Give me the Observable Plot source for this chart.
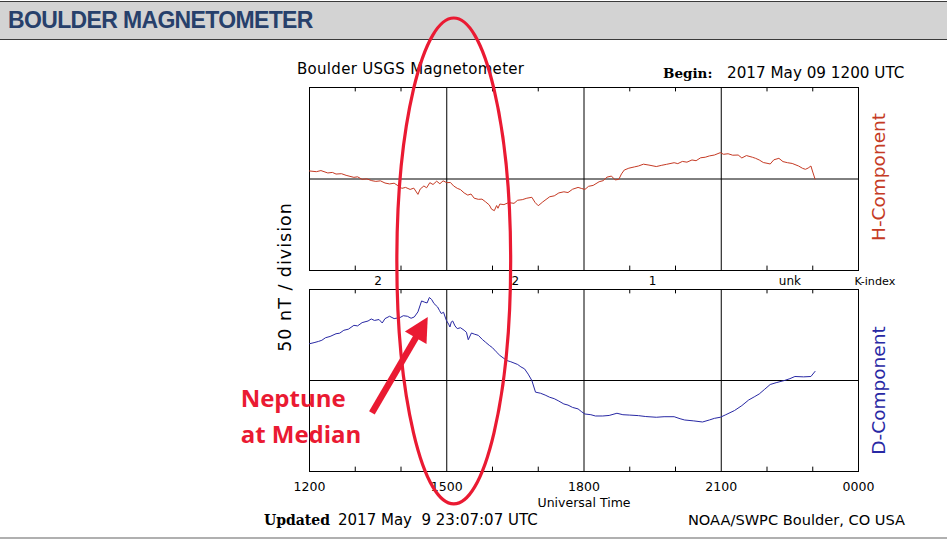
<!DOCTYPE html>
<html><head><meta charset="utf-8">
<script src="https://cdn.jsdelivr.net/npm/d3@7"></script>
<script src="https://cdn.jsdelivr.net/npm/@observablehq/plot@0.6"></script>
<style>
html,body{margin:0;padding:0;background:#fff;}
#page{position:relative;width:947px;height:542px;overflow:hidden;font-family:"DejaVu Sans",sans-serif;}
#header{position:absolute;left:0;top:1px;width:947px;height:37px;background:#d3d3d3;border-top:1px solid #3a3a3a;border-bottom:1px solid #3a3a3a;}
#footerline{position:absolute;left:0;top:537px;width:947px;height:2px;background:#b0b0b0;}
.abs{position:absolute;left:0;}
</style></head>
<body><div id="page"><div id="header"></div><div id="footerline"></div></div>
<script>
// ---- data ----
const xTickHours = [0, 3, 6, 9, 12];
const xTickLabels = ["1200", "1500", "1800", "2100", "0000"];
const gridHours = [3, 6, 9];
const minorHours = [1, 2, 4, 5, 7, 8, 10, 11];
const kHours = [1.5, 4.5, 7.5, 10.5];
const kLabels = ["2", "2", "1", "unk"];

// H-component (hours after 1200 UT, nT relative to baseline)
const hHours = [0.00,0.15,0.25,0.40,0.50,0.58,0.70,0.80,0.97,1.05,1.15,1.25,1.36,1.45,1.55,1.65,1.75,1.85,1.95,2.02,2.10,2.20,2.28,2.37,2.42,2.50,2.56,2.63,2.70,2.78,2.85,2.92,3.00,3.08,3.15,3.23,3.30,3.38,3.46,3.53,3.60,3.69,3.77,3.85,3.93,3.98,4.04,4.09,4.12,4.16,4.25,4.35,4.47,4.55,4.65,4.75,4.86,4.93,5.00,5.10,5.25,5.35,5.45,5.56,5.65,5.75,5.87,5.95,6.02,6.10,6.20,6.33,6.42,6.50,6.60,6.68,6.76,6.82,6.88,6.98,7.10,7.19,7.30,7.42,7.58,7.70,7.80,7.97,8.05,8.15,8.25,8.36,8.45,8.55,8.65,8.74,8.85,8.98,9.05,9.15,9.25,9.37,9.45,9.55,9.68,9.75,9.83,9.92,10.00,10.07,10.15,10.26,10.35,10.45,10.55,10.69,10.78,10.84,10.90,10.96,11.00,11.05];
const hValues = [4.4,4.0,4.6,3.3,3.6,2.7,2.9,2.0,0.9,1.2,-0.2,0.1,-0.9,-1.3,-1.0,-2.2,-2.7,-2.3,-3.9,-5.1,-4.6,-5.7,-5.0,-8.4,-5.5,-3.8,-4.8,-2.0,-3.0,-1.2,-2.6,-1.0,-2.0,-1.9,-3.8,-5.1,-5.8,-7.6,-8.8,-8.2,-10.5,-11.1,-11.0,-12.5,-14.2,-16.5,-17.3,-14.5,-16.0,-13.7,-14.0,-12.9,-13.3,-11.6,-11.3,-10.5,-10.0,-12.8,-14.6,-12.5,-9.7,-9.2,-7.6,-7.0,-7.4,-5.6,-4.6,-5.2,-5.7,-4.0,-3.5,-1.5,-0.9,1.0,1.6,-0.5,-0.2,2.8,4.9,5.9,6.6,7.1,8.1,7.6,6.8,7.5,8.0,8.9,8.4,9.6,9.2,10.4,10.0,11.6,11.9,12.6,13.1,14.4,13.5,13.8,13.0,13.1,11.5,12.8,11.9,11.3,10.4,9.0,8.6,8.2,10.5,11.3,9.5,8.9,8.5,7.1,5.8,5.3,6.0,7.1,3.8,0];

// D-component
const dHours = [0.00,0.10,0.20,0.27,0.35,0.45,0.58,0.66,0.75,0.85,0.97,1.05,1.15,1.28,1.35,1.42,1.52,1.59,1.65,1.75,1.85,1.98,2.05,2.14,2.22,2.29,2.37,2.45,2.52,2.57,2.62,2.67,2.72,2.80,2.84,2.88,2.93,2.99,3.04,3.07,3.10,3.13,3.18,3.23,3.30,3.38,3.43,3.47,3.54,3.60,3.69,3.78,3.85,3.93,4.00,4.08,4.16,4.23,4.31,4.40,4.47,4.55,4.62,4.70,4.78,4.86,4.94,5.05,5.15,5.25,5.35,5.45,5.56,5.65,5.75,5.87,5.95,6.02,6.15,6.25,6.41,6.55,6.72,6.85,7.00,7.19,7.35,7.58,7.75,7.97,8.10,8.20,8.40,8.59,8.74,8.85,8.98,9.10,9.29,9.45,9.60,9.72,9.83,9.95,10.07,10.20,10.38,10.50,10.61,10.80,10.96,11.05];
const dValues = [20.2,20.8,21.5,22.1,23.5,24.2,25.7,26.0,27.6,28.2,30.3,30.0,31.8,32.7,33.8,33.0,33.5,31.6,34.0,35.3,34.0,34.6,35.6,35.3,34.2,34.9,37.7,43.7,43.0,42.6,45.6,44.5,42.3,40.4,38.5,36.8,37.5,33.1,31.0,29.4,32.2,32.7,30.0,28.5,29.0,27.6,26.5,22.4,26.1,25.5,24.8,22.5,21.0,19.3,18.0,15.8,13.8,12.5,11.0,10.3,9.6,8.8,7.5,6.4,3.5,0,-6.4,-7.0,-8.0,-9.2,-10.0,-11.3,-12.9,-13.5,-14.8,-15.6,-17.2,-18.4,-18.8,-19.5,-19.5,-19.2,-18.0,-18.8,-19.0,-19.3,-19.8,-20.2,-19.9,-19.9,-21.0,-21.7,-22.2,-22.8,-21.7,-20.8,-20.2,-18.8,-16.5,-13.8,-10.7,-9.0,-7.4,-4.8,-2.2,-1.2,0,1.0,2.2,2.0,2.2,5.0];

// annotation (in D-panel data units: hours, nT)
const annoEllipse = {h: 3.164, v: 65.4, rh: 1.244, rv: 133.5};
const annoArrowTail = [1.375, -18.1];
const annoArrowTip = [2.596, 34.6];
const annoText = ["Neptune", "at Median"];
const annoTextY = [-14.8, -34.6];
const annoTextH = -1.505;

const H = hHours.map((h, i) => ({h, v: hValues[i]}));
const D = dHours.map((h, i) => ({h, v: dValues[i]}));
const K = kHours.map((h, i) => ({h, k: kLabels[i]}));
const tickLabel = new Map(xTickHours.map((h, i) => [h, xTickLabels[i]]));

const hColor = "#c53a24", dColor = "#2828a4", red = "#ea1a32";
const FONT = "DejaVu Sans";
const page = document.getElementById("page");

function panelMarks() {
  return [
    Plot.ruleX(gridHours, {stroke: "black"}),
    Plot.ruleY([0], {stroke: "black"}),
    Plot.ruleX(minorHours, {y1: 50, y2: 47.6, stroke: "black"}),
    Plot.ruleX(minorHours, {y1: -50, y2: -47.6, stroke: "black"}),
    Plot.frame({stroke: "black"})
  ];
}

const hTop = 45;
const hPlot = Plot.plot({
  width: 947, height: 250,
  marginLeft: 309, marginRight: 89, marginTop: 42, marginBottom: 25,
  style: {background: "transparent", fontFamily: FONT, overflow: "visible"},
  x: {domain: [0, 12], axis: null},
  y: {domain: [-50, 50], axis: null},
  marks: [
    ...panelMarks(),
    Plot.line(H, {x: "h", y: "v", stroke: hColor, strokeWidth: 1}),
    Plot.text(K, {x: "h", text: "k", frameAnchor: "bottom", dy: 11, lineAnchor: "middle", fontSize: 12, fill: "black"}),
    Plot.text(["K-index"], {text: d => d, frameAnchor: "bottom-right", dx: -4, dy: 11, textAnchor: "start", lineAnchor: "middle", fontSize: 11.2, fill: "black"}),
    Plot.text(["H-Component"], {text: d => d, frameAnchor: "right", textAnchor: "middle", lineAnchor: "middle", dx: 21, dy: -2, rotate: -90, fontSize: 18.5, fill: hColor})
  ]
});
hPlot.classList.add("abs"); hPlot.style.top = hTop + "px";
page.appendChild(hPlot);

const dTop = 275;
const dPlot = Plot.plot({
  width: 947, height: 267,
  marginLeft: 309, marginRight: 89, marginTop: 14, marginBottom: 71,
  style: {background: "transparent", fontFamily: FONT, fontSize: "12.5px", overflow: "visible"},
  x: {domain: [0, 12]},
  y: {domain: [-50, 50], axis: null},
  marks: [
    ...panelMarks(),
    Plot.line(D, {x: "h", y: "v", stroke: dColor, strokeWidth: 1}),
    Plot.axisX(xTickHours, {anchor: "bottom", tickSize: 0, tickPadding: 11, tickFormat: d => tickLabel.get(d), label: null, fill: "black"}),
    Plot.text(["Universal Time"], {text: d => d, frameAnchor: "bottom", dy: 31, lineAnchor: "middle", fontSize: 12.5, fill: "black"}),
    Plot.text(["D-Component"], {text: d => d, frameAnchor: "right", textAnchor: "middle", lineAnchor: "middle", dx: 21, dy: 10, rotate: -90, fontSize: 18.5, fill: dColor}),
    Plot.text(annoText, {text: d => d, x: () => annoTextH, y: (d, i) => annoTextY[i], textAnchor: "start", lineAnchor: "bottom", fontSize: 24, fontWeight: "bold", fontFamily: "Open Sans", fill: red})
  ]
});
dPlot.classList.add("abs"); dPlot.style.top = dTop + "px";
page.appendChild(dPlot);

// overlay: header/titles and hand-drawn annotation, positioned through D-plot scales
const xs = dPlot.scale("x"), ys = dPlot.scale("y");
const px = h => xs.apply(h), py = v => dTop + ys.apply(v);
const svg = d3.select(page).append("svg").attr("class", "abs").style("top", "0px")
  .attr("width", 947).attr("height", 542).style("font-family", FONT);

svg.append("text").attr("x", 8).attr("y", 28).text("BOULDER MAGNETOMETER")
  .style("font", "bold 23px 'Liberation Sans', Arial, sans-serif").style("letter-spacing", "-0.65px").attr("fill", "#27406b");
svg.append("text").attr("x", 297).attr("y", 74).attr("font-size", 15).style("letter-spacing", "0.3px").text("Boulder USGS Magnetometer");
svg.append("text").attr("x", 663).attr("y", 78).style("font", "bold 13.5px 'DejaVu Serif', serif").text("Begin:");
svg.append("text").attr("x", 727).attr("y", 78).attr("font-size", 15.2).text("2017 May 09 1200 UTC");
svg.append("text").attr("x", 264).attr("y", 525).style("font", "bold 14px 'DejaVu Serif', serif").text("Updated");
svg.append("text").attr("x", 338).attr("y", 525).attr("font-size", 15).style("white-space", "pre").text("2017 May  9 23:07:07 UTC");
svg.append("text").attr("x", 905).attr("y", 525).attr("font-size", 14.6).attr("text-anchor", "end").text("NOAA/SWPC Boulder, CO USA");
svg.append("text").attr("transform", "translate(285,277) rotate(-90)").attr("text-anchor", "middle").attr("dy", "0.35em")
  .attr("font-size", 17.5).style("letter-spacing", "1px").text("50 nT / division");

// ellipse
svg.append("ellipse")
  .attr("cx", px(annoEllipse.h)).attr("cy", py(annoEllipse.v))
  .attr("rx", px(annoEllipse.h + annoEllipse.rh) - px(annoEllipse.h))
  .attr("ry", py(0) - py(annoEllipse.rv))
  .attr("fill", "none").attr("stroke", red).attr("stroke-width", 3.2);

// arrow
const S = [px(annoArrowTail[0]), py(annoArrowTail[1])];
const T = [px(annoArrowTip[0]), py(annoArrowTip[1])];
const len = Math.hypot(T[0] - S[0], T[1] - S[1]);
const u = [(T[0] - S[0]) / len, (T[1] - S[1]) / len], n = [-u[1], u[0]];
const L = 24, W = 12.5;
const B = [T[0] - u[0] * L, T[1] - u[1] * L];
svg.append("line").attr("x1", S[0]).attr("y1", S[1]).attr("x2", B[0] + u[0] * 2).attr("y2", B[1] + u[1] * 2)
  .attr("stroke", red).attr("stroke-width", 6.5);
svg.append("polygon").attr("points", [T, [B[0] + n[0] * W, B[1] + n[1] * W], [B[0] - n[0] * W, B[1] - n[1] * W]].map(p => p.join(",")).join(" "))
  .attr("fill", red);
</script>
</body></html>
